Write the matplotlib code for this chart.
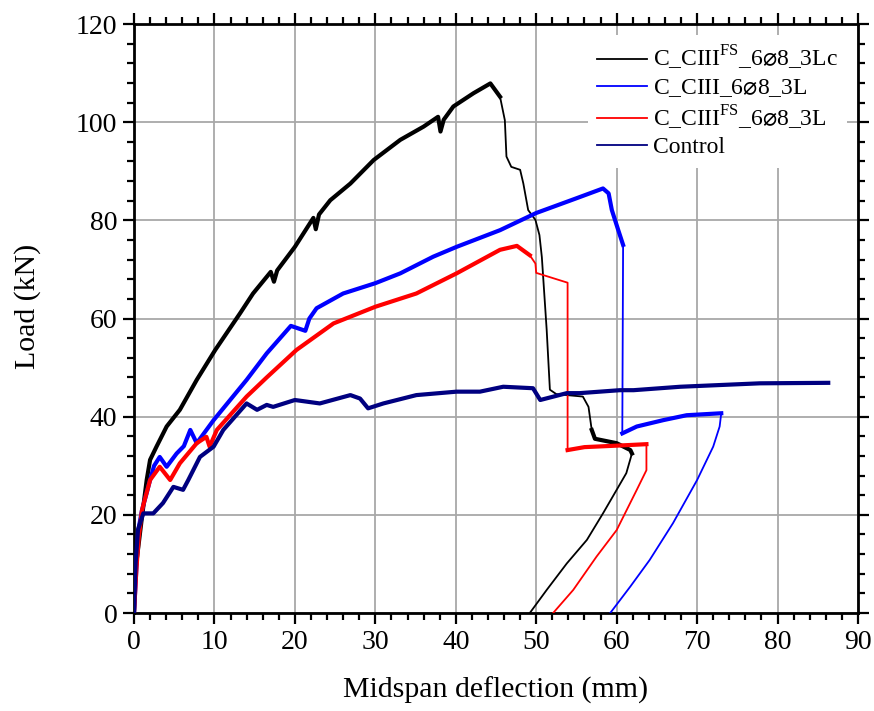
import matplotlib
matplotlib.use("Agg")
from matplotlib import pyplot as plt
from matplotlib.ticker import MultipleLocator

plt.rcParams['font.family'] = ['Liberation Serif', 'DejaVu Sans']
plt.rcParams['mathtext.fontset'] = 'custom'
plt.rcParams['mathtext.rm'] = 'Liberation Serif'
plt.rcParams['mathtext.sf'] = 'DejaVu Sans'

# C_CIII^FS_6⌀8_3Lc (black)
black_x = [0, 0.12, 0.54, 0.95, 1.58, 2.0, 2.8, 4.06, 5.7, 7.8, 10.1, 13.2, 14.8,
           17.0, 17.4, 17.8, 20.0, 22.3, 22.6, 23.0, 24.4, 26.9, 29.8, 33.1, 36.0,
           37.8, 38.1, 38.5, 39.7, 42.2, 44.3, 45.5, 46.1, 46.3, 46.9, 48.0, 48.4,
           49.0, 49.9, 50.4, 50.7, 51.3, 51.7, 52.5, 55.8, 56.5, 56.9, 57.3, 60.0,
           61.7, 61.9, 61.2, 60.0, 58.3, 56.3, 53.8, 51.3, 49.2]
black_y = [0, 8, 13.5, 19, 27.1, 31.2, 33.9, 38, 41.4, 47.5, 53.6, 61.1, 65.1,
           69.5, 67.5, 69.8, 74.6, 80.5, 78.2, 81.2, 84.1, 87.5, 92.3, 96.4, 99.1,
           101.1, 98.1, 100.5, 103.2, 105.9, 107.9, 105.2, 100.4, 93.0, 90.9, 90.3, 87.5,
           82.1, 80.1, 77.0, 72.5, 57.7, 45.5, 44.6, 44.1, 42.0, 37.3, 35.5, 34.6,
           33.2, 32.5, 28.5, 25.1, 20.3, 14.9, 10.1, 4.7, 0]

# C_CIII_6⌀8_3L (blue)
blue_x = [0, 0.2, 0.54, 1.0, 1.5, 2.0, 2.5, 3.2, 4.06, 5.3, 6.2, 7.0, 7.8, 9.9,
          12.0, 14.0, 16.5, 19.5, 21.3, 21.8, 22.7, 26.0, 30.0, 33.1, 37.2, 40.1,
          45.5, 50.0, 55.0, 58.3, 59.0, 59.4, 60.2, 60.8, 60.7, 62.5, 65.8, 68.7,
          73.0, 72.8, 72.0, 70.0, 67.0, 64.1, 61.7, 59.2]
blue_y = [0, 6, 16.9, 21, 24, 27.1, 30, 31.8, 29.8, 32.5, 34, 37.3, 34.6, 39.3,
          43.5, 47.5, 52.9, 58.5, 57.5, 60.0, 62.1, 65.1, 67.2, 69.2, 72.6, 74.6,
          78.0, 81.5, 84.5, 86.5, 85.5, 82.1, 78.0, 75.0, 36.6, 38.0, 39.3, 40.3,
          40.7, 38.0, 33.9, 27.1, 18.3, 10.8, 5.4, 0]

# C_CIII^FS_6⌀8_3L (red)
red_x = [0, 0.3, 0.6, 1.0, 2.0, 3.2, 4.5, 5.7, 7.8, 9.0, 9.4, 10.3, 14.0, 16.5,
         20.2, 24.8, 30.0, 35.1, 40.1, 45.5, 47.6, 49.2, 49.9, 50.0, 53.9, 53.9,
         56.0, 60.0, 63.7, 63.7, 62.5, 60.0, 57.5, 54.6, 52.1]
red_y = [0, 9, 15.5, 21, 27.1, 29.8, 27.1, 30.5, 34.6, 35.9, 33.9, 37.3, 44.1, 48.0,
         53.6, 59.0, 62.4, 65.1, 69.2, 74.0, 74.8, 72.9, 71.2, 69.3, 67.3, 33.2,
         33.8, 34.1, 34.4, 29.1, 25.1, 16.9, 11.5, 4.7, 0]

# Control (navy)
navy_x = [0, 0.2, 0.5, 1.16, 2.4, 3.6, 4.9, 5.5, 6.1, 6.75, 8.2, 9.9, 11.1, 14.0,
          15.3, 16.5, 17.3, 20.0, 23.1, 26.9, 28.1, 29.1, 31.0, 35.1, 40.1, 43.0,
          45.9, 49.6, 50.5, 53.8, 55.4, 60.4, 62.1, 67.9, 77.8, 86.3]
navy_y = [0, 10, 17, 20.3, 20.3, 22.4, 25.7, 25.4, 25.1, 27.1, 31.8, 33.9, 37.3, 42.7,
          41.4, 42.4, 42.0, 43.4, 42.7, 44.4, 43.7, 41.7, 42.7, 44.4, 45.1, 45.1,
          46.1, 45.8, 43.4, 44.8, 44.8, 45.4, 45.4, 46.1, 46.8, 46.9]

labels = ['C_CIII$^{\\mathrm{FS}}$_6$\\mathsf{⌀}$8_3Lc', 'C_CIII_6$\\mathsf{⌀}$8_3L',
          'C_CIII$^{\\mathrm{FS}}$_6$\\mathsf{⌀}$8_3L', 'Control']
colors = ['#000000', '#0000ff', '#ff0000', '#000080']

# noisy stretches of each record, drawn thicker
noisy = [[(0, 32), (46, 51)], [(0, 34), (34, 39)], [(0, 22), (25, 29)], [(0, 36)]]

fig = plt.figure(figsize=(8.74, 7.11), dpi=100)
ax = fig.add_axes([0.1533, 0.1378, 0.8284, 0.8284])

series = [(black_x, black_y), (blue_x, blue_y), (red_x, red_y), (navy_x, navy_y)]
for (xs, ys), lab, c, segs in zip(series, labels, colors, noisy):
    ax.plot(xs, ys, color=c, lw=1.3, label=lab, zorder=3)
    for a, b in segs:
        ax.plot(xs[a:b], ys[a:b], color=c, lw=3, zorder=3)

ax.set_xlim(0, 90)
ax.set_ylim(0, 120)
ax.xaxis.set_major_locator(MultipleLocator(10))
ax.xaxis.set_minor_locator(MultipleLocator(2))
ax.yaxis.set_major_locator(MultipleLocator(20))
ax.yaxis.set_minor_locator(MultipleLocator(4))
ax.grid(True, which='major', color='#a8a8a8', lw=1.3, zorder=0)
ax.set_axisbelow(True)

for s in ax.spines.values():
    s.set_linewidth(2)
ax.tick_params(which='both', direction='out', top=True, right=True, width=1.6,
               labelsize=20, pad=4)
ax.tick_params(which='major', length=8)
ax.tick_params(which='minor', length=5)

ax.set_xlabel('Midspan deflection (mm)', fontsize=21.5, labelpad=16)
ax.set_ylabel('Load (kN)', fontsize=21.5)
ax.yaxis.set_label_coords(-0.128, 0.521)

leg = ax.legend(loc='upper right', fontsize=17, frameon=True, fancybox=False,
                handlelength=2.1, handletextpad=0.25, borderaxespad=0.45,
                labelspacing=0.2)
leg.get_frame().set_edgecolor('none')
leg.get_frame().set_facecolor('white')
leg.get_frame().set_alpha(1)
leg.set_zorder(5)

fig.savefig('out.png')
